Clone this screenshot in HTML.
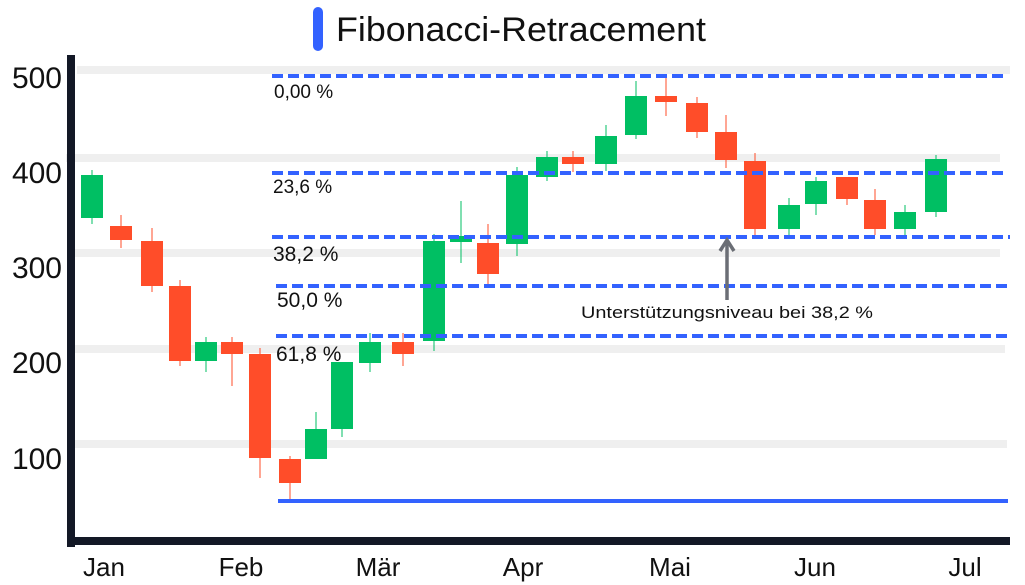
<!DOCTYPE html>
<html><head><meta charset="utf-8"><style>
html,body{margin:0;padding:0;background:#fff;}
svg{display:block;font-family:"Liberation Sans",sans-serif;}
</style></head><body>
<svg width="1025" height="585" viewBox="0 0 1025 585" xmlns="http://www.w3.org/2000/svg">
<rect width="1025" height="585" fill="#fff"/>
<rect x="313" y="7" width="10" height="44" rx="5" fill="#3362ff"/>
<text x="336" y="41" font-size="34" fill="#111" textLength="370" lengthAdjust="spacingAndGlyphs">Fibonacci-Retracement</text>
<g fill="#efefef">
<rect x="77" y="66" width="933" height="8"/>
<rect x="66" y="154" width="934" height="8"/>
<rect x="75" y="249" width="925" height="8"/>
<rect x="75" y="345" width="930" height="8"/>
<rect x="75" y="440" width="932" height="8"/>
</g>
<g font-size="30" fill="#111" text-anchor="end">
<text x="62" y="88">500</text>
<text x="62" y="183">400</text>
<text x="62" y="278">300</text>
<text x="62" y="373">200</text>
<text x="62" y="469">100</text>
</g>
<g>
<line x1="92" y1="170" x2="92" y2="224" stroke="#00bf63"/><rect x="81" y="175" width="22" height="43" fill="#00bf63"/>
<line x1="121" y1="215" x2="121" y2="248" stroke="#ff4d29"/><rect x="110" y="226" width="22" height="14" fill="#ff4d29"/>
<line x1="152" y1="228" x2="152" y2="292" stroke="#ff4d29"/><rect x="141" y="241" width="22" height="45" fill="#ff4d29"/>
<line x1="180" y1="280" x2="180" y2="366" stroke="#ff4d29"/><rect x="169" y="286" width="22" height="75" fill="#ff4d29"/>
<line x1="206" y1="337" x2="206" y2="372" stroke="#00bf63"/><rect x="195" y="342" width="22" height="19" fill="#00bf63"/>
<line x1="232" y1="337" x2="232" y2="386" stroke="#ff4d29"/><rect x="221" y="342" width="22" height="12" fill="#ff4d29"/>
<line x1="260" y1="348" x2="260" y2="478" stroke="#ff4d29"/><rect x="249" y="354" width="22" height="104" fill="#ff4d29"/>
<line x1="290" y1="456" x2="290" y2="500" stroke="#ff4d29"/><rect x="279" y="459" width="22" height="24" fill="#ff4d29"/>
<line x1="316" y1="412" x2="316" y2="459" stroke="#00bf63"/><rect x="305" y="429" width="22" height="30" fill="#00bf63"/>
<line x1="342" y1="362" x2="342" y2="437" stroke="#00bf63"/><rect x="331" y="362" width="22" height="67" fill="#00bf63"/>
<line x1="370" y1="333" x2="370" y2="372" stroke="#00bf63"/><rect x="359" y="342" width="22" height="21" fill="#00bf63"/>
<line x1="403" y1="333" x2="403" y2="366" stroke="#ff4d29"/><rect x="392" y="342" width="22" height="12" fill="#ff4d29"/>
<line x1="434" y1="234" x2="434" y2="351" stroke="#00bf63"/><rect x="423" y="241" width="22" height="100" fill="#00bf63"/>
<line x1="461" y1="201" x2="461" y2="263" stroke="#00bf63"/><rect x="450" y="236" width="22" height="6" fill="#00bf63"/>
<line x1="488" y1="224" x2="488" y2="284" stroke="#ff4d29"/><rect x="477" y="243" width="22" height="31" fill="#ff4d29"/>
<line x1="517" y1="167" x2="517" y2="256" stroke="#00bf63"/><rect x="506" y="175" width="22" height="69" fill="#00bf63"/>
<line x1="547" y1="151" x2="547" y2="181" stroke="#00bf63"/><rect x="536" y="157" width="22" height="20" fill="#00bf63"/>
<line x1="573" y1="151" x2="573" y2="172" stroke="#ff4d29"/><rect x="562" y="157" width="22" height="7" fill="#ff4d29"/>
<line x1="606" y1="125" x2="606" y2="171" stroke="#00bf63"/><rect x="595" y="136" width="22" height="28" fill="#00bf63"/>
<line x1="636" y1="81" x2="636" y2="139" stroke="#00bf63"/><rect x="625" y="96" width="22" height="39" fill="#00bf63"/>
<line x1="666" y1="78" x2="666" y2="116" stroke="#ff4d29"/><rect x="655" y="96" width="22" height="6" fill="#ff4d29"/>
<line x1="697" y1="97" x2="697" y2="138" stroke="#ff4d29"/><rect x="686" y="103" width="22" height="29" fill="#ff4d29"/>
<line x1="726" y1="115" x2="726" y2="168" stroke="#ff4d29"/><rect x="715" y="132" width="22" height="28" fill="#ff4d29"/>
<line x1="755" y1="153" x2="755" y2="235" stroke="#ff4d29"/><rect x="744" y="161" width="22" height="68" fill="#ff4d29"/>
<line x1="789" y1="198" x2="789" y2="235" stroke="#00bf63"/><rect x="778" y="205" width="22" height="24" fill="#00bf63"/>
<line x1="816" y1="177" x2="816" y2="215" stroke="#00bf63"/><rect x="805" y="181" width="22" height="23" fill="#00bf63"/>
<line x1="847" y1="177" x2="847" y2="205" stroke="#ff4d29"/><rect x="836" y="177" width="22" height="22" fill="#ff4d29"/>
<line x1="875" y1="189" x2="875" y2="235" stroke="#ff4d29"/><rect x="864" y="200" width="22" height="29" fill="#ff4d29"/>
<line x1="905" y1="205" x2="905" y2="235" stroke="#00bf63"/><rect x="894" y="212" width="22" height="17" fill="#00bf63"/>
<line x1="936" y1="155" x2="936" y2="217" stroke="#00bf63"/><rect x="925" y="159" width="22" height="53" fill="#00bf63"/>
</g>
<g stroke="#3362ff" stroke-width="4" stroke-dasharray="11,5">
<line x1="272" y1="76" x2="1008" y2="76"/>
<line x1="272" y1="173" x2="1008" y2="173"/>
<line x1="272" y1="237" x2="1010" y2="237"/>
<line x1="276" y1="286" x2="1008" y2="286"/>
<line x1="276" y1="336" x2="1008" y2="336"/>
</g>
<line x1="278" y1="501" x2="1008" y2="501" stroke="#3362ff" stroke-width="4"/>
<g fill="#111">
<text x="274" y="98" font-size="19">0,00 %</text>
<text x="273" y="193" font-size="19">23,6 %</text>
<text x="273" y="261" font-size="21">38,2 %</text>
<text x="277" y="307" font-size="21">50,0 %</text>
<text x="276" y="361" font-size="21">61,8 %</text>
</g>
<line x1="727" y1="300" x2="727" y2="242" stroke="#6b6e75" stroke-width="3.5"/>
<polyline points="720,251 727,240 734,251" fill="none" stroke="#6b6e75" stroke-width="3.5"/>
<text x="727" y="318" font-size="17" fill="#111" text-anchor="middle" textLength="292" lengthAdjust="spacingAndGlyphs">Unterstützungsniveau bei 38,2 %</text>
<rect x="67" y="55" width="8" height="492" fill="#131826"/>
<rect x="67" y="537" width="943" height="8" fill="#131826"/>
<g font-size="26" fill="#111" text-anchor="middle">
<text x="104" y="576">Jan</text>
<text x="241" y="576">Feb</text>
<text x="378" y="576">Mär</text>
<text x="523" y="576">Apr</text>
<text x="670" y="576">Mai</text>
<text x="815" y="576">Jun</text>
<text x="965" y="576">Jul</text>
</g>
</svg>
</body></html>
